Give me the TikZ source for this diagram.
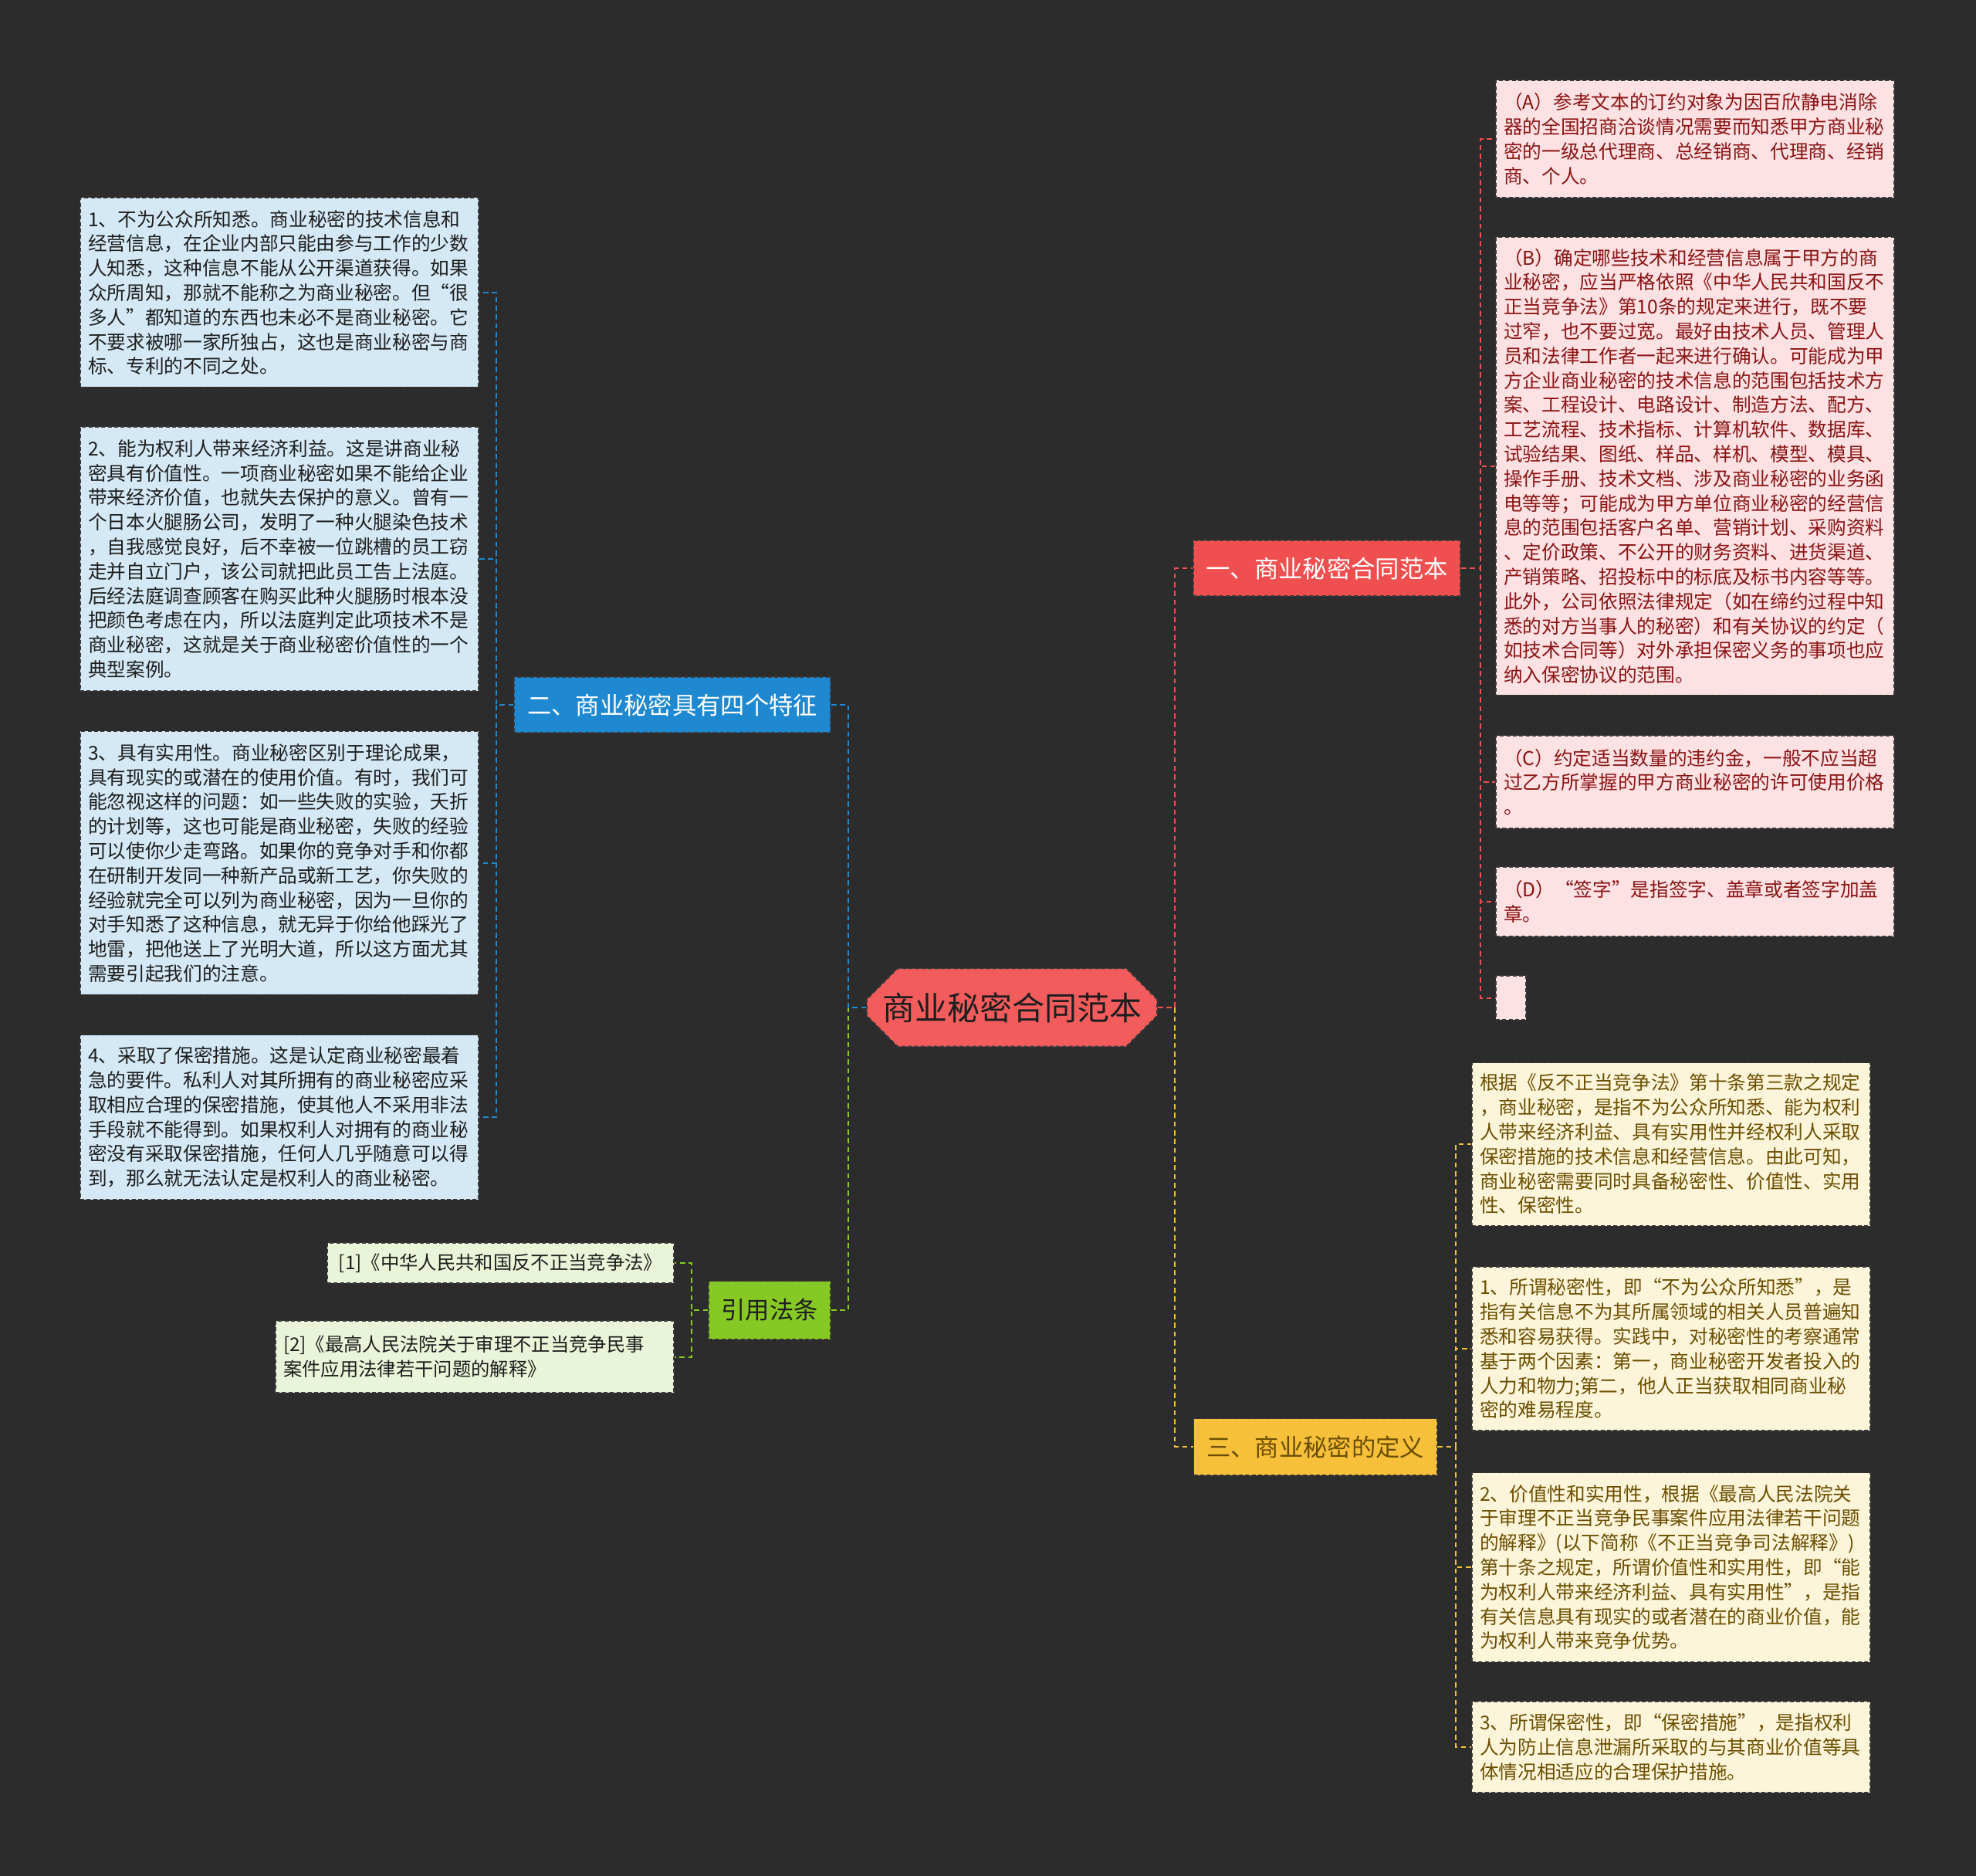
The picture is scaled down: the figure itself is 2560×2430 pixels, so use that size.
\documentclass[tikz,border=0pt]{standalone}
\usepackage{fontspec}
\setmainfont{Noto Sans CJK SC}
\usetikzlibrary{shapes.misc}
\definecolor{bg}{HTML}{2C2C2C}
\definecolor{boxedge}{HTML}{3A3A3A}
\definecolor{rootred}{HTML}{F25C5C}
\definecolor{brred}{HTML}{F04F4F}
\definecolor{brblue}{HTML}{1E88D0}
\definecolor{brgreen}{HTML}{86C924}
\definecolor{bryellow}{HTML}{F6C03A}
\definecolor{lfred}{HTML}{FDE1E3}
\definecolor{lfblue}{HTML}{D4E8F5}
\definecolor{lfyellow}{HTML}{FDF5DA}
\definecolor{lfgreen}{HTML}{E9F4D8}
\definecolor{txred}{HTML}{8B1414}
\definecolor{txyellow}{HTML}{6B4E00}
\definecolor{txdark}{HTML}{1E1E1E}
\tikzset{
  boxline/.style={draw=boxedge, line width=0.5pt, dash pattern=on 1.5pt off 1pt},
  leaf/.style={boxline, text width=148.8pt, inner xsep=3pt, inner ysep=0pt,
    align=left, minimum width=154.8pt, font=\fontsize{7.4}{9.54}\selectfont},
  blueleaf/.style={leaf, fill=lfblue, text=txdark},
  redleaf/.style={leaf, fill=lfred, text=txred},
  yelleaf/.style={leaf, fill=lfyellow, text=txyellow},
  greenleaf/.style={boxline, fill=lfgreen, text=txdark, inner xsep=3pt, inner ysep=0pt,
    align=left, font=\fontsize{7.3}{9.54}\selectfont},
  branch/.style={boxline, inner sep=0pt, font=\fontsize{9.4}{11}\selectfont, minimum height=21.6pt},
  conn/.style={line width=0.6pt, dash pattern=on 2pt off 1.4pt},
}
\begin{document}
\begin{tikzpicture}[x=0.3pt,y=-0.3pt]
\fill[bg] (0,0) rectangle (2560,2430);
\useasboundingbox (0,0) rectangle (2560,2430);

% root
\node[chamfered rectangle, chamfered rectangle xsep=5pt, chamfered rectangle ysep=7pt,
  fill=rootred, boxline, minimum width=112.8pt, minimum height=30.3pt, inner sep=0pt,
  text=txdark, font=\fontsize{12.6}{14}\selectfont] (root) at (1311,1305) {商业秘密合同范本};

% branches
\node[branch, fill=brred, text=white, minimum width=103.8pt] (b1) at (1719,736) {一、商业秘密合同范本};
\node[branch, fill=brblue, text=white, minimum width=123pt] (b2) at (871,913) {二、商业秘密具有四个特征};
\node[branch, fill=brgreen, text=txdark, minimum width=47.4pt, minimum height=22.5pt] (b3) at (997,1697) {引用法条};
\node[branch, fill=bryellow, text=txyellow, minimum width=94.5pt, minimum height=21.9pt] (b4) at (1704,1874) {三、商业秘密的定义};

% blue leaves
\node[blueleaf, minimum height=73.5pt] (l1) at (362,379) {1、不为公众所知悉。商业秘密的技术信息和\\
经营信息，在企业内部只能由参与工作的少数\\
人知悉，这种信息不能从公开渠道获得。如果\\
众所周知，那就不能称之为商业秘密。但“很\\
多人”都知道的东西也未必不是商业秘密。它\\
不要求被哪一家所独占，这也是商业秘密与商\\
标、专利的不同之处。};
\node[blueleaf, minimum height=102.6pt] (l2) at (362,724) {2、能为权利人带来经济利益。这是讲商业秘\\
密具有价值性。一项商业秘密如果不能给企业\\
带来经济价值，也就失去保护的意义。曾有一\\
个日本火腿肠公司，发明了一种火腿染色技术\\
，自我感觉良好，后不幸被一位跳槽的员工窃\\
走并自立门户，该公司就把此员工告上法庭。\\
后经法庭调查顾客在购买此种火腿肠时根本没\\
把颜色考虑在内，所以法庭判定此项技术不是\\
商业秘密，这就是关于商业秘密价值性的一个\\
典型案例。};
\node[blueleaf, minimum height=102.3pt] (l3) at (362,1118) {3、具有实用性。商业秘密区别于理论成果，\\
具有现实的或潜在的使用价值。有时，我们可\\
能忽视这样的问题：如一些失败的实验，夭折\\
的计划等，这也可能是商业秘密，失败的经验\\
可以使你少走弯路。如果你的竞争对手和你都\\
在研制开发同一种新产品或新工艺，你失败的\\
经验就完全可以列为商业秘密，因为一旦你的\\
对手知悉了这种信息，就无异于你给他踩光了\\
地雷，把他送上了光明大道，所以这方面尤其\\
需要引起我们的注意。};
\node[blueleaf, minimum height=63.9pt] (l4) at (362,1447) {4、采取了保密措施。这是认定商业秘密最着\\
急的要件。私利人对其所拥有的商业秘密应采\\
取相应合理的保密措施，使其他人不采用非法\\
手段就不能得到。如果权利人对拥有的商业秘\\
密没有采取保密措施，任何人几乎随意可以得\\
到，那么就无法认定是权利人的商业秘密。};

% red leaves
\node[redleaf, minimum height=45.6pt] (ra) at (2196,180) {（A）参考文本的订约对象为因百欣静电消除\\
器的全国招商洽谈情况需要而知悉甲方商业秘\\
密的一级总代理商、总经销商、代理商、经销\\
商、个人。};
\node[redleaf, minimum height=177.9pt] (rb) at (2196,604) {（B）确定哪些技术和经营信息属于甲方的商\\
业秘密，应当严格依照《中华人民共和国反不\\
正当竞争法》第10条的规定来进行，既不要\\
过窄，也不要过宽。最好由技术人员、管理人\\
员和法律工作者一起来进行确认。可能成为甲\\
方企业商业秘密的技术信息的范围包括技术方\\
案、工程设计、电路设计、制造方法、配方、\\
工艺流程、技术指标、计算机软件、数据库、\\
试验结果、图纸、样品、样机、模型、模具、\\
操作手册、技术文档、涉及商业秘密的业务函\\
电等等；可能成为甲方单位商业秘密的经营信\\
息的范围包括客户名单、营销计划、采购资料\\
、定价政策、不公开的财务资料、进货渠道、\\
产销策略、招投标中的标底及标书内容等等。\\
此外，公司依照法律规定（如在缔约过程中知\\
悉的对方当事人的秘密）和有关协议的约定（\\
如技术合同等）对外承担保密义务的事项也应\\
纳入保密协议的范围。};
\node[redleaf, minimum height=36pt] (rc) at (2196,1013) {（C）约定适当数量的违约金，一般不应当超\\
过乙方所掌握的甲方商业秘密的许可使用价格\\
。};
\node[redleaf, minimum height=27pt] (rd) at (2196,1168) {（D）“签字”是指签字、盖章或者签字加盖\\
章。};
\node[boxline, fill=lfred, minimum width=11.7pt, minimum height=17.1pt, inner sep=0pt] (re) at (1957.5,1292.5) {};

% yellow leaves
\node[yelleaf, minimum height=63.3pt] (y0) at (2165,1482) {根据《反不正当竞争法》第十条第三款之规定\\
，商业秘密，是指不为公众所知悉、能为权利\\
人带来经济利益、具有实用性并经权利人采取\\
保密措施的技术信息和经营信息。由此可知，\\
商业秘密需要同时具备秘密性、价值性、实用\\
性、保密性。};
\node[yelleaf, minimum height=63.6pt] (y1) at (2165,1747) {1、所谓秘密性，即“不为公众所知悉”，是\\
指有关信息不为其所属领域的相关人员普遍知\\
悉和容易获得。实践中，对秘密性的考察通常\\
基于两个因素：第一，商业秘密开发者投入的\\
人力和物力;第二，他人正当获取相同商业秘\\
密的难易程度。};
\node[yelleaf, minimum height=73.5pt] (y2) at (2165,2030) {2、价值性和实用性，根据《最高人民法院关\\
于审理不正当竞争民事案件应用法律若干问题\\
的解释》(以下简称《不正当竞争司法解释》)\\
第十条之规定，所谓价值性和实用性，即“能\\
为权利人带来经济利益、具有实用性”，是指\\
有关信息具有现实的或者潜在的商业价值，能\\
为权利人带来竞争优势。};
\node[yelleaf, minimum height=35.4pt] (y3) at (2165,2263) {3、所谓保密性，即“保密措施”，是指权利\\
人为防止信息泄漏所采取的与其商业价值等具\\
体情况相适应的合理保护措施。};

% green leaves
\node[greenleaf, minimum width=134.7pt, minimum height=15.6pt] (g1) at (648.5,1636) {[1]《中华人民共和国反不正当竞争法》};
\node[greenleaf, minimum width=154.8pt, minimum height=27.9pt, text width=148.8pt] (g2) at (615,1757.5) {[2]《最高人民法院关于审理不正当竞争民事\\
案件应用法律若干问题的解释》};

% junctions
\coordinate (rj) at (1522,1305);
\coordinate (lj) at (1099,1305);
\coordinate (j1) at (1918,736);
\coordinate (j2) at (643,913);
\coordinate (j3) at (896,1697);
\coordinate (j4) at (1886,1874);

% root connectors
\draw[conn, draw=bryellow] (root.east) -- (rj) |- (b4.west);
\draw[conn, draw=brred] (root.east) -- (rj) |- (b1.west);
\draw[conn, draw=brgreen] (root.west) -- (lj) |- (b3.east);
\draw[conn, draw=brblue] (root.west) -- (lj) |- (b2.east);

% branch 1
\foreach \n in {ra,rb,rc,rd,re}
  \draw[conn, draw=brred] (b1.east) -- (j1) |- (\n.west);
% branch 2
\foreach \n in {l1,l2,l3,l4}
  \draw[conn, draw=brblue] (b2.west) -- (j2) |- (\n.east);
% branch 3
\foreach \n in {g1,g2}
  \draw[conn, draw=brgreen] (b3.west) -- (j3) |- (\n.east);
% branch 4
\foreach \n in {y0,y1,y2,y3}
  \draw[conn, draw=bryellow] (b4.east) -- (j4) |- (\n.west);
\end{tikzpicture}
\end{document}
